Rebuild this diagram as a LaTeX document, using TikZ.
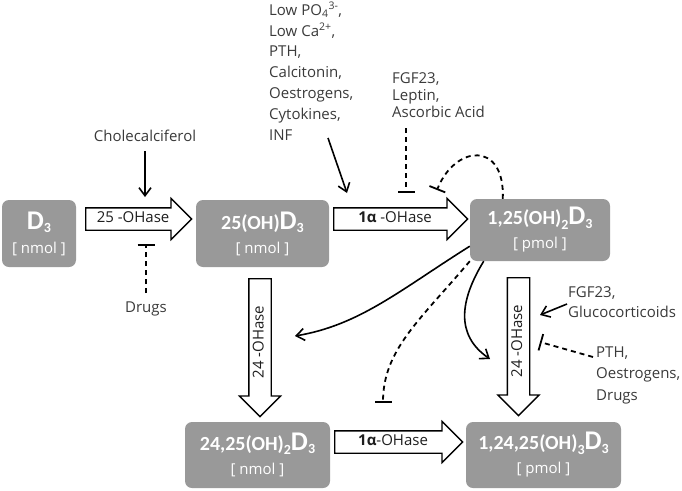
\documentclass[tikz,border=0pt]{standalone}
\usepackage{fontspec}
\setmainfont{Open Sans}
\newfontfamily\calfont{Carlito}
\usetikzlibrary{shapes.arrows,arrows.meta,positioning}
\definecolor{boxgray}{HTML}{999999}
\definecolor{notegray}{HTML}{3a3a3a}
\definecolor{enzblack}{HTML}{1e1e1e}

% box text
\newcommand{\dn}[1]{\raisebox{-0.22em}{\fontsize{14}{14}\selectfont #1}}
\newcommand{\chem}[1]{{\calfont\bfseries\fontsize{20}{20}\selectfont #1}}
\newcommand{\bigD}[1]{{\calfont\bfseries\fontsize{27}{27}\selectfont D}{\calfont\bfseries\dn{#1}}}
\newcommand{\unit}[1]{{\fontsize{15}{15}\selectfont [ #1 ]}}

\tikzset{
  pool/.style={rectangle, rounded corners=7pt, fill=boxgray, text=white, align=center,
    inner sep=0pt, font=\fontsize{15}{24}\selectfont},
  enzyme/.style={single arrow, draw=black, line width=1.3pt, fill=white, text=enzblack,
    single arrow head extend=9.5pt, inner xsep=0pt, inner ysep=3pt,
    text height=11pt, text depth=4pt, font=\fontsize{15}{15}\selectfont, minimum height=#1},
  note/.style={text=notegray, align=left, inner sep=0pt},
  act/.style={line width=1.6pt, -{Straight Barb[length=8pt,width=12pt]}},
  inh/.style={line width=1.8pt, dash pattern=on 5pt off 4pt, -{Bar[width=17pt,line width=1.8pt]}}
}

\begin{document}
\begin{tikzpicture}[x=1pt,y=-1pt]
\useasboundingbox (0,0) rectangle (682,490);

% pools
\node[pool, minimum width=74pt, minimum height=67pt] (d3) at (39,233.5) {\bigD{3}\\\unit{nmol}};
\node[pool, minimum width=133pt, minimum height=67pt] (oh25) at (262.5,233.5) {\chem{25(OH)}\bigD{3}\\\unit{nmol}};
\node[pool, minimum width=140pt, minimum height=62pt] (oh125) at (540,230) {\chem{1,25(OH)\dn{2}}\bigD{3}\\\unit{pmol}};
\node[pool, minimum width=145pt, minimum height=66pt] (oh2425) at (257.5,455) {\chem{24,25(OH)\dn{2}}\bigD{3}\\\unit{nmol}};
\node[pool, minimum width=155pt, minimum height=66pt] (oh12425) at (543.5,455) {\chem{1,24,25(OH)\dn{3}}\bigD{3}\\\unit{pmol}};

% enzymes
\node[enzyme=106pt, anchor=tail] (a25) at (85,219) {25 -OHase};
\node[enzyme=134pt, anchor=tail] (a1a) at (333,219) {\textbf{1α} -OHase};
\node[enzyme=128pt, anchor=tail] (a1ab) at (334,442) {\textbf{1α}-OHase};
\node[enzyme=138pt, rotate=90, shape border rotate=180, anchor=tail] (a24l) at (260,278) {24 -OHase};
\node[enzyme=138pt, rotate=90, shape border rotate=180, anchor=tail] (a24r) at (518.5,277) {24 -OHase};

% regulators (base = last line)
\node[note, anchor=base, font=\fontsize{15}{20}\selectfont] (chol) at (145,141) {Cholecalciferol};
\node[note, anchor=base, font=\fontsize{15}{20}\selectfont] (drugs) at (146,312) {Drugs};
\node[note, anchor=base west, font=\fontsize{15}{20.8}\selectfont] (stim) at (269,140)
  {Low PO\textsubscript{4}\textsuperscript{3-},\\Low Ca\textsuperscript{2+},\\PTH,\\Calcitonin,\\Oestrogens,\\Cytokines,\\INF};
\node[note, anchor=base west, font=\fontsize{15}{17}\selectfont] (fgf) at (392,117)
  {FGF23,\\Leptin,\\Ascorbic Acid};
\node[note, anchor=base west, font=\fontsize{15}{20}\selectfont] (gluco) at (568,317)
  {FGF23,\\Glucocorticoids};
\node[note, anchor=base west, font=\fontsize{15}{21.5}\selectfont] (pth) at (596,400)
  {PTH,\\Oestrogens,\\Drugs};

% free ends
\coordinate (cholend) at (145,197);
\coordinate (drugsbar) at (146,244);
\coordinate (stimstart) at (328,138);
\coordinate (stimend) at (347,193);
\coordinate (fgfstart) at (406,128);
\coordinate (fgfbar) at (406,193);
\coordinate (loopbar) at (437,190);
\coordinate (tip24) at (295,336);
\coordinate (bar2425) at (383,403);
\coordinate (tip12425) at (490,359);
\coordinate (glucostart) at (567,304);
\coordinate (glucoend) at (540,315);
\coordinate (pthstart) at (593,357);
\coordinate (pthbar) at (540,342);

% connectors
\draw[act] (chol.south) ++(0,10) -- (cholend);
\draw[inh] (drugs.north) ++(0,-8) -- (drugsbar);
\draw[act] (stimstart) -- (stimend);
\draw[inh] (fgfstart) -- (fgfbar);
\draw[inh] (oh125.140) .. controls (505,140) and (455,145) .. (loopbar);
\draw[act] (oh125.193) .. controls (400,290) and (360,325) .. (tip24);
\draw[inh] (oh125.south west) .. controls (420,320) and (383,350) .. (bar2425);
\draw[act] (oh125.209) .. controls (460,300) and (455,335) .. (tip12425);
\draw[act] (glucostart) -- (glucoend);
\draw[inh] (pthstart) -- (pthbar);
\end{tikzpicture}
\end{document}
